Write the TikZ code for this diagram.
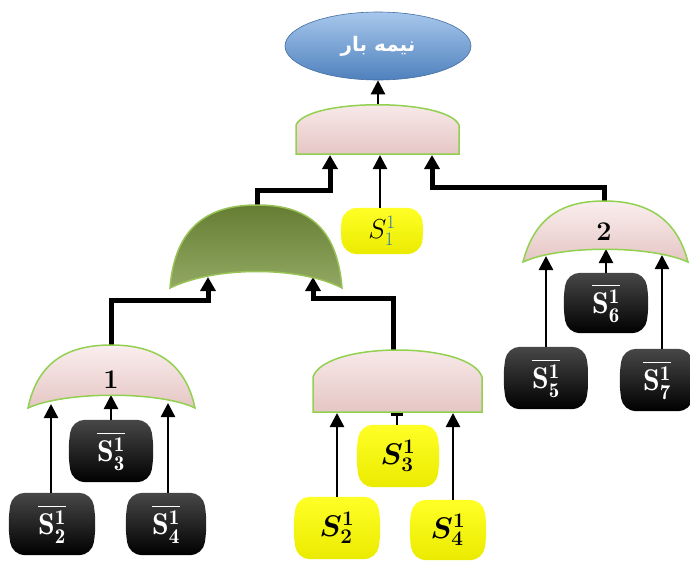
\documentclass[tikz,border=0pt]{standalone}
\usepackage{fontspec}
\usepackage{amsmath,bm,graphicx}
\usetikzlibrary{arrows.meta,shapes.geometric,backgrounds}
\TeXXeTstate=1
\newfontfamily\arabicfont[Script=Arabic]{DejaVu Sans}
\definecolor{pinklight}{HTML}{FAEEEE}
\definecolor{pinkdark}{HTML}{E5C6C4}
\definecolor{gateedge}{HTML}{92D050}
\definecolor{olivec}{HTML}{77933C}
\definecolor{olivelight}{HTML}{9BBB59}
\definecolor{blueA}{HTML}{A7C7EC}
\definecolor{blueB}{HTML}{4F81BD}
\definecolor{subblue}{HTML}{2E75B6}
\newcommand\barrelfill[2]{\path[#2,rounded corners=13pt] (#1.north west) -- (#1.north east) -- ([xshift=4pt]#1.east) -- (#1.south east) -- (#1.south west) -- ([xshift=-4pt]#1.west) -- cycle;}
\newcommand\negS[1]{\scalebox{1.2}{$\overline{\mathbf{S}^{\mathbf{1}}_{\mathbf{#1}}}$}}
\newcommand\posS[1]{\scalebox{1.2}{$\bm{S^1_{#1}}$}}
\begin{document}
\begin{tikzpicture}[x=1pt,y=-1pt,
  thinarr/.style={line width=2.5pt,-{Triangle[width=14pt,length=14pt]}},
  thickarr/.style={line width=5pt,-{Triangle[width=15pt,length=14pt]}},
  teeline/.style={line width=2.5pt,-{Bar[width=12pt]}},
  pinkgate/.style={draw=gateedge,line width=1.5pt,top color=pinklight,bottom color=pinkdark},
  greengate/.style={draw=olivelight!70!gateedge,line width=1.5pt,top color=olivec!85!black,bottom color=olivec!80!white},
  bbox/.style={minimum width=#1,minimum height=62pt,inner sep=0pt,text=white,font=\fontsize{25}{29}\selectfont},
  ybox/.style={minimum width=#1,minimum height=62pt,inner sep=0pt,text=black,font=\fontsize{25}{29}\selectfont},
  gatelabel/.style={font=\fontsize{27}{30}\selectfont\bfseries,inner sep=0pt},
  blackfill/.style={top color=black!72,middle color=black,bottom color=black},
  yellowfill/.style={top color=yellow!85!white,middle color=yellow,bottom color=yellow!92!black},
]
\useasboundingbox (0,0) rectangle (690,560);

% root
\node[ellipse,minimum width=186pt,minimum height=68pt,top color=blueA,bottom color=blueB,
  draw=blueB!85!black,line width=0.6pt,text=white,
  font=\arabicfont\bfseries\fontsize{20}{24}\selectfont] (root) at (378,46) {\beginR نیمه بار\endR};

% boxes (text nodes)
\node[bbox=80pt] (s2b) at (52,524) {\negS{2}};
\node[bbox=78pt] (s3b) at (111,451) {\negS{3}};
\node[bbox=74pt] (s4b) at (166,524) {\negS{4}};
\node[bbox=78pt] (s5b) at (546,378) {\negS{5}};
\node[bbox=78pt,minimum height=60pt] (s6b) at (606,303) {\negS{6}};
\node[bbox=68pt] (s7b) at (657,380) {\negS{7}};
\node[ybox=76pt,minimum height=46pt] (s11) at (382,231) {\scalebox{1.1}{$S^{\textcolor{subblue}{1}}_{\textcolor{subblue}{1}}$}};
\node[ybox=76pt] (s3y) at (398,456) {\posS{3}};
\node[ybox=80pt] (s2y) at (337,528) {\posS{2}};
\node[ybox=70pt,minimum height=60pt] (s4y) at (448,530) {\posS{4}};

\begin{scope}[on background layer]
  \foreach \n in {s2b,s3b,s4b,s5b,s6b,s7b}{\barrelfill{\n}{blackfill}}
  \foreach \n in {s11,s3y,s2y,s4y}{\barrelfill{\n}{yellowfill}}
\end{scope}

% gate ports
\coordinate (topout) at (378,105);
\coordinate (tin1) at (330,155);
\coordinate (tin2) at (380,155);
\coordinate (tin3) at (432,155);
\coordinate (gGout) at (257,206);
\coordinate (gGin1) at (208,277);
\coordinate (gGin2) at (313,277);
\coordinate (g1out) at (111,346);
\coordinate (g1in1) at (51,404);
\coordinate (g1in2) at (111,395);
\coordinate (g1in3) at (168,403);
\coordinate (g2out) at (604,202);
\coordinate (g2in1) at (546,256);
\coordinate (g2in2) at (606,249);
\coordinate (g2in3) at (662,255);
\coordinate (gMout) at (393,351);
\coordinate (gMin1) at (337,413);
\coordinate (gMin2) at (397,413);
\coordinate (gMin3) at (453,413);

% connectors
\draw[thinarr] (topout) -- (root.south);
\draw[thickarr] (gGout) -- ++(0,-16) -| (tin1);
\draw[thinarr] (tin2 |- s11.north) -- (tin2);
\draw[thickarr] (g2out) -- ++(0,-15) -| (tin3);
\draw[thickarr] (g1out) -- ++(0,-46) -| (gGin1);
\draw[thickarr] (gMout) -- ++(0,-53) -| (gGin2);
\draw[thinarr] (g1in1 |- s2b.north) -- (g1in1);
\draw[thinarr] (g1in2 |- s3b.north) -- (g1in2);
\draw[thinarr] (g1in3 |- s4b.north) -- (g1in3);
\draw[thinarr] (g2in1 |- s5b.north) -- (g2in1);
\draw[thinarr] (g2in2 |- s6b.north) -- (g2in2);
\draw[thinarr] (g2in3 |- s7b.north) -- (g2in3);
\draw[thinarr] (gMin1 |- s2y.north) -- (gMin1);
\draw[teeline] (gMin2 |- s3y.north) -- (gMin2);
\draw[thinarr] (gMin3 |- s4y.north) -- (gMin3);

% gates
\draw[pinkgate] (296,154) -- (296,125) .. controls (308,98) and (447,98) .. (459,125) -- (459,154) -- cycle;
\draw[greengate] (170,288) .. controls (175,225) and (210,205) .. (257,205) .. controls (305,205) and (337,225) .. (342,288) .. controls (300,266) and (215,266) .. (170,288) -- cycle;
\draw[pinkgate] (28,408) .. controls (38,360) and (70,345) .. (111,345) .. controls (152,345) and (185,360) .. (195,408) .. controls (160,391) and (65,391) .. (28,408) -- cycle;
\draw[pinkgate] (523,262) .. controls (535,215) and (565,201) .. (604,201) .. controls (643,201) and (676,215) .. (688,262) .. controls (650,245) and (560,245) .. (523,262) -- cycle;
\draw[pinkgate] (313,412) -- (313,377) .. controls (325,341) and (470,341) .. (482,377) -- (482,412) -- cycle;

\node[gatelabel] (lab1) at (111,380) {1};
\node[gatelabel] (lab2) at (604,232) {2};
\end{tikzpicture}
\end{document}
